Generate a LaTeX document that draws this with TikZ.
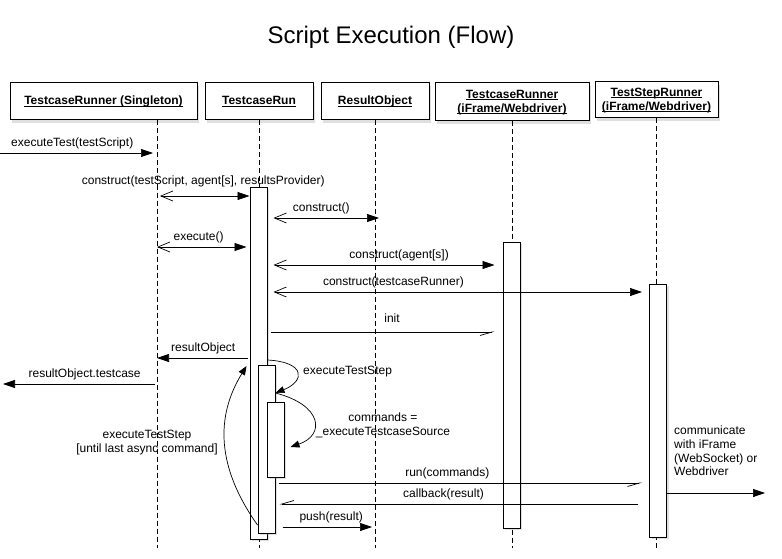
\documentclass[tikz,border=0pt]{standalone}
\usepackage{fontspec}
\setmainfont{Liberation Sans}
\usetikzlibrary{arrows.meta,shadows,calc}
\newcommand{\uln}[1]{\underline{\raisebox{0pt}[\height][0pt]{#1}}}

\begin{document}
\begin{tikzpicture}[x=1pt, y=-1pt,
    hdr/.style={rectangle, draw, line width=1pt, fill=white, align=center, inner sep=0pt, minimum height=37pt, font=\fontsize{12}{14}\selectfont\bfseries, drop shadow={shadow xshift=2pt, shadow yshift=-3pt, opacity=0.25}},
    bar/.style={rectangle, draw, line width=1pt, fill=white, inner sep=0pt, minimum width=17pt, drop shadow={shadow xshift=2pt, shadow yshift=-2pt, opacity=0.25}},
    life/.style={line width=0.8pt, dash pattern=on 5pt off 3pt},
    lbl/.style={font=\fontsize{12}{14}\selectfont, inner sep=0pt, text height=9pt, text depth=3pt, above=3pt},
    note/.style={font=\fontsize{12}{14}\selectfont, inner sep=0pt, align=center},
    msg/.style={line width=0.7pt, -{Triangle[length=12pt, width=8pt]}},
    call/.style={line width=0.7pt, {Straight Barb[length=12pt, width=10pt]}-{Triangle[length=12pt, width=8pt]}},
    async/.style={line width=0.7pt, -{Straight Barb[harpoon, swap, length=12pt, width=7pt]}},
    self/.style={line width=0.7pt, -{Triangle[length=9pt, width=7pt]}}]
    \useasboundingbox (0,0) rectangle (782,559);

    \node (title) [font=\fontsize{24}{28}\selectfont] at (391,37) {Script Execution (Flow)};

    \node (sng) [hdr, minimum width=187pt] at (103.5,101.5) {\uln{TestcaseRunner (Singleton)}};
    \node (run) [hdr, minimum width=108pt] at (259,101.5) {\uln{TestcaseRun}};
    \node (res) [hdr, minimum width=108pt] at (375,101.5) {\uln{ResultObject}};
    \node (tcr) [hdr, minimum width=154pt, minimum height=38pt] at (512,102) {\uln{TestcaseRunner}\\\uln{(iFrame/Webdriver)}};
    \node (tsr) [hdr, minimum width=123pt, minimum height=36pt] at (656.5,100) {\uln{TestStepRunner}\\\uln{(iFrame/Webdriver)}};

    \coordinate (sngL) at ([xshift=53.5pt]sng.south);
    \foreach \n/\y in {exec/153, cons/196, consR/218, exe/247, consA/265, consT/292, init/332, rObj/358, rTc/384,
                      step/360, cmd/393, cmdE/447, loop/525, loopE/366, run/483, cb/504, push/527, comm/493, bottom/548}
        \coordinate (y\n) at (0,\y);
    \coordinate (outL) at (3,384);
    \coordinate (outR) at (765,493);

    \foreach \hd in {sngL, run.south, res.south, tcr.south, tsr.south}
        \draw[life] (\hd) -- (\hd |- ybottom);

    \node (barRun) [bar, minimum height=352pt] at (258.5,363) {};
    \node (barTcr) [bar, minimum height=286pt] at (511.5,385) {};
    \node (barTsr) [bar, minimum height=253pt] at (658,410.5) {};
    \node (barStep) [bar, minimum height=168pt] at (266.5,449) {};
    \node (barCmd) [bar, minimum height=75pt] at (275.5,439.5) {};

    \draw[msg, shorten >=4pt] (yexec) -- node[lbl, pos=0.46] {executeTest(testScript)} (sngL |- yexec);
    \draw[call, shorten <=3pt] (sngL |- ycons) -- node[lbl, yshift=5pt] {construct(testScript, agent[s], resultsProvider)} (barRun.west |- ycons);
    \draw[call, shorten <=6pt, shorten >=-4pt] (barRun.east |- yconsR) -- node[lbl] {construct()} (res |- yconsR);
    \draw[call, shorten >=3pt] (sngL |- yexe) -- node[lbl, pos=0.45] {execute()} (barRun.west |- yexe);
    \draw[call, shorten <=6pt, shorten >=8pt] (barRun.east |- yconsA) -- node[lbl, pos=0.56] {construct(agent[s])} (barTcr.west |- yconsA);
    \draw[call, shorten <=6pt, shorten >=7pt] (barRun.east |- yconsT) -- node[lbl, pos=0.33] {construct(testcaseRunner)} (barTsr.west |- yconsT);
    \draw[async, shorten <=3pt, shorten >=8pt] (barRun.east |- yinit) -- node[lbl, yshift=3pt, pos=0.53] {init} (barTcr.west |- yinit);
    \draw[msg, shorten <=2pt] (barRun.west |- yrObj) -- node[lbl] {resultObject} (sngL |- yrObj);
    \draw[msg, shorten <=2pt] (sngL |- yrTc) -- node[lbl, pos=0.47] {resultObject.testcase} (outL);

    \draw[self] (barRun.east |- ystep) .. controls +(38,2) and +(30,-12) .. (barStep.east |- ycmd);
    \node (lstep) [note, anchor=west] at (303,372) {executeTestStep};
    \draw[self] (barStep.east |- ycmd) .. controls +(47,12) and +(35,-12) .. ($(barCmd.east |- ycmdE)+(6,0)$);
    \node (lcmd) [note] at (383,425) {commands =\\\_executeTestcaseSource};
    \draw[self] (barStep.west |- yloop) .. controls +(-46,-65) and +(-27,44) .. ($(barRun.west |- yloopE)+(-3,0)$);
    \node (lloop) [note] at (147,443) {executeTestStep\\{[until last async command]}};

    \draw[async, shorten <=3pt, shorten >=7pt] (barStep.east |- yrun) -- node[lbl, pos=0.46] {run(commands)} (barTsr.west |- yrun);
    \draw[async, shorten <=11pt, shorten >=4pt] (barTsr.west |- ycb) -- node[lbl, pos=0.55] {callback(result)} (barStep.east |- ycb);
    \draw[msg, shorten <=7pt, shorten >=3pt] (barStep.east |- ypush) -- node[lbl, pos=0.56] {push(result)} (res |- ypush);

    \node (lcomm) [note, align=left, anchor=west, font=\fontsize{12}{13.7}\selectfont] at (674,451) {communicate\\with iFrame\\(WebSocket) or\\Webdriver};
    \draw[msg] (barTsr.east |- ycomm) -- (outR);
\end{tikzpicture}
\end{document}
